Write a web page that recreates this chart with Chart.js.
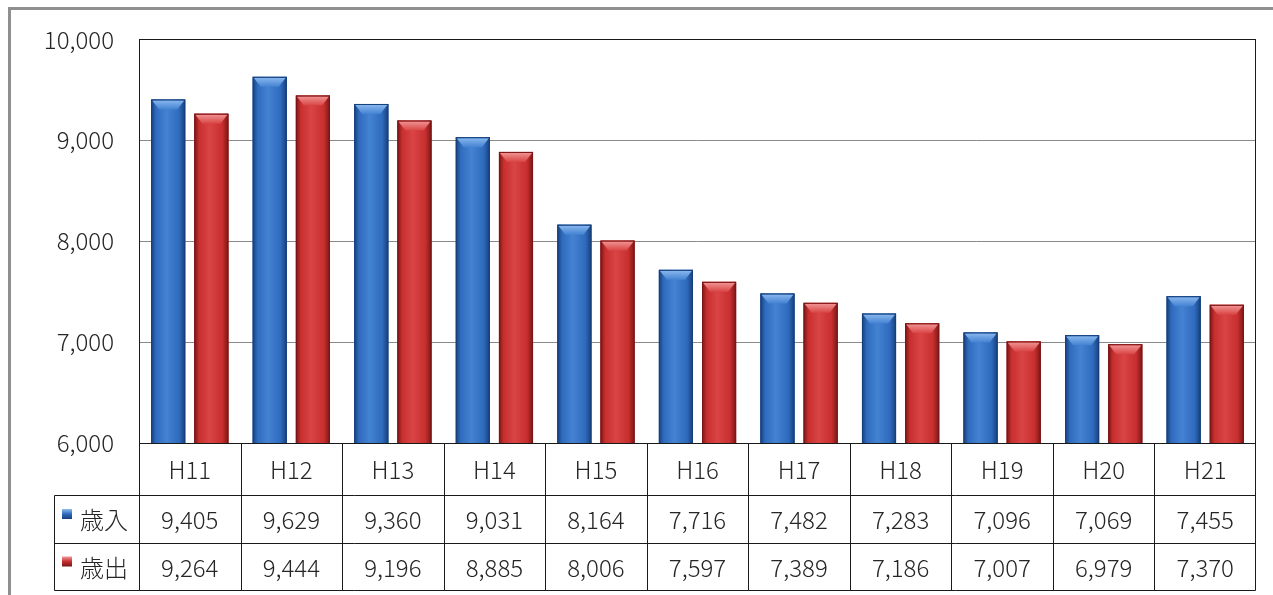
<html>
    <head>
        <meta charset="UTF-8">
        <title>歳入・歳出の推移</title>

        <script src="https://cdn.jsdelivr.net/npm/chart.js"></script>

        <style>
            body {
                margin: 0;
                background: #ffffff;
            }
            #budget {
                display: block;
            }
        </style>
    </head>

    <body>
        <canvas id='budget' width='1273' height='595'></canvas>

        <script>
            // 年度
            const years = ['H11', 'H12', 'H13', 'H14', 'H15', 'H16', 'H17', 'H18', 'H19', 'H20', 'H21'];
            // 歳入・歳出（百万円）
            const revenue = [9405, 9629, 9360, 9031, 8164, 7716, 7482, 7283, 7096, 7069, 7455];
            const expenditure = [9264, 9444, 9196, 8885, 8006, 7597, 7389, 7186, 7007, 6979, 7370];
            // 縦軸
            const axisMin = 6000;
            const axisMax = 10000;
            const axisStep = 1000;

            const FONT = '"Noto Sans CJK JP", "Noto Sans", sans-serif';
            const TEXT = '#262626';

            const palette = {
                '歳入': { edge: '#173f7a', mid: '#2f6bbd', light: '#4482d2', top: '#8ebcf0' },
                '歳出': { edge: '#7a1616', mid: '#c82f2f', light: '#d94444', top: '#f29a9a' }
            };

            const fmt = v => v.toLocaleString('en-US');

            // 背景と外枠
            const framePlugin = {
                id: 'frame',
                beforeDraw(chart) {
                    const c = chart.ctx;
                    c.save();
                    c.fillStyle = '#ffffff';
                    c.fillRect(0, 0, chart.width, chart.height);
                    c.strokeStyle = '#8f8f8f';
                    c.lineWidth = 3;
                    c.beginPath();
                    c.moveTo(9.5, chart.height);
                    c.lineTo(9.5, 8.5);
                    c.lineTo(chart.width, 8.5);
                    c.stroke();
                    c.restore();
                }
            };

            // 立体風の棒
            function paintBar(c, el, col) {
                const p = el.getProps(['x', 'y', 'base', 'width'], true);
                const l = p.x - p.width / 2;
                const r = p.x + p.width / 2;
                const top = Math.min(p.y, p.base);
                const bot = Math.max(p.y, p.base);
                const w = r - l;

                const g = c.createLinearGradient(l, 0, r, 0);
                g.addColorStop(0, col.edge);
                g.addColorStop(0.14, col.mid);
                g.addColorStop(0.45, col.light);
                g.addColorStop(0.82, col.mid);
                g.addColorStop(1, col.edge);
                c.fillStyle = g;
                c.fillRect(l, top, w, bot - top);

                // 上面の面取り
                const bev = 10;
                const tg = c.createLinearGradient(0, top, 0, top + bev);
                tg.addColorStop(0, col.top);
                tg.addColorStop(1, col.light);
                c.fillStyle = tg;
                c.beginPath();
                c.moveTo(l + 1, top + 1);
                c.lineTo(r - 1, top + 1);
                c.lineTo(r - 8, top + bev);
                c.lineTo(l + 8, top + bev);
                c.closePath();
                c.fill();

                c.strokeStyle = col.edge;
                c.lineWidth = 1;
                c.strokeRect(l + 0.5, top + 0.5, w - 1, bot - top);
            }

            const barPlugin = {
                id: 'bevelBars',
                afterDatasetsDraw(chart) {
                    const c = chart.ctx;
                    const a = chart.chartArea;
                    c.save();
                    c.beginPath();
                    c.rect(a.left, a.top, a.right - a.left, a.bottom - a.top);
                    c.clip();
                    chart.data.datasets.forEach((ds, i) => {
                        const col = palette[ds.label];
                        chart.getDatasetMeta(i).data.forEach(el => paintBar(c, el, col));
                    });
                    c.restore();

                    // 描画領域の枠
                    c.save();
                    c.strokeStyle = '#1a1a1a';
                    c.lineWidth = 1;
                    c.strokeRect(Math.round(a.left) + 0.5, Math.round(a.top) + 0.5,
                        Math.round(a.right - a.left) - 1, Math.round(a.bottom - a.top));
                    c.restore();
                }
            };

            // データテーブル
            const tablePlugin = {
                id: 'dataTable',
                afterDraw(chart) {
                    const c = chart.ctx;
                    const a = chart.chartArea;
                    const xs = chart.scales.x;
                    const n = years.length;
                    const cw = (a.right - a.left) / n;
                    const legendLeft = 54.5;
                    const rows = [a.bottom, a.bottom + 52, a.bottom + 100, a.bottom + 147];
                    const L = Math.round(a.left) + 0.5;
                    const R = Math.round(a.right) - 0.5;

                    c.save();
                    c.strokeStyle = '#1a1a1a';
                    c.lineWidth = 1;
                    c.beginPath();
                    // 横線
                    c.moveTo(L, Math.round(rows[0]) + 0.5); c.lineTo(R, Math.round(rows[0]) + 0.5);
                    for (let k = 1; k < rows.length; k++) {
                        const y = Math.round(rows[k]) + 0.5;
                        c.moveTo(legendLeft, y); c.lineTo(R, y);
                    }
                    // 縦線
                    c.moveTo(legendLeft, Math.round(rows[1]) + 0.5);
                    c.lineTo(legendLeft, Math.round(rows[3]) + 0.5);
                    for (let i = 0; i <= n; i++) {
                        const x = i === n ? R : Math.round(a.left + cw * i) + 0.5;
                        c.moveTo(x, rows[0]); c.lineTo(x, rows[3] + 0.5);
                    }
                    c.stroke();

                    c.fillStyle = TEXT;
                    c.textAlign = 'center';
                    c.textBaseline = 'middle';
                    c.font = '300 24px ' + FONT;
                    years.forEach((y, i) => {
                        const cx = xs.getPixelForValue(i);
                        c.fillText(y, cx, (rows[0] + rows[1]) / 2 + 1);
                        c.fillText(fmt(revenue[i]), cx, (rows[1] + rows[2]) / 2 + 1);
                        c.fillText(fmt(expenditure[i]), cx, (rows[2] + rows[3]) / 2 + 1);
                    });

                    // 凡例
                    chart.data.datasets.forEach((ds, k) => {
                        const col = palette[ds.label];
                        const cy = (rows[k + 1] + rows[k + 2]) / 2;
                        const mg = c.createLinearGradient(0, cy - 10, 0, cy);
                        mg.addColorStop(0, col.top);
                        mg.addColorStop(0.5, col.mid);
                        mg.addColorStop(1, col.edge);
                        c.fillStyle = mg;
                        c.fillRect(62, cy - 10, 10, 10);
                        c.fillStyle = TEXT;
                        c.textAlign = 'left';
                        c.font = '300 24px ' + FONT;
                        c.fillText(ds.label, 80, cy + 1);
                    });
                    c.restore();
                }
            };

            const config = {
                type: 'bar',
                data: {
                    labels: years,
                    datasets: [
                        {
                            label: '歳入',
                            data: revenue,
                            backgroundColor: palette['歳入'].mid,
                            categoryPercentage: 0.85,
                            barPercentage: 0.79
                        },
                        {
                            label: '歳出',
                            data: expenditure,
                            backgroundColor: palette['歳出'].mid,
                            categoryPercentage: 0.85,
                            barPercentage: 0.79
                        }
                    ]
                },
                options: {
                    responsive: false,
                    animation: false,
                    layout: {
                        padding: { left: 10, top: 38, right: 17, bottom: 152 }
                    },
                    plugins: {
                        legend: { display: false },
                        tooltip: { enabled: false }
                    },
                    scales: {
                        x: {
                            display: false
                        },
                        y: {
                            min: axisMin,
                            max: axisMax,
                            afterFit: s => { s.width = 129; },
                            border: { display: false },
                            grid: {
                                color: '#8a8a8a',
                                drawTicks: false
                            },
                            ticks: {
                                stepSize: axisStep,
                                padding: 25,
                                color: TEXT,
                                font: { family: FONT, size: 24, weight: 300 },
                                callback: v => fmt(v)
                            }
                        }
                    }
                },
                plugins: [framePlugin, barPlugin, tablePlugin]
            };

            new Chart(document.getElementById('budget'), config);
        </script>
    </body>
</html>
